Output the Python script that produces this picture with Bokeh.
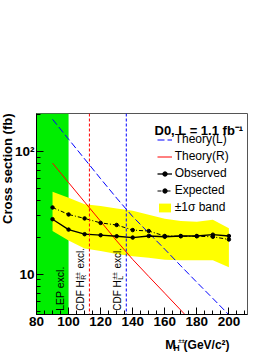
import math
from bokeh.plotting import figure
from bokeh.layouts import column
from bokeh.models import (Range1d, FixedTicker, BoxAnnotation, Span, Label,
                          Legend, LegendItem, Title)
from bokeh.embed import file_html
from bokeh.resources import INLINE

# ---- data ----
mass = [90, 100, 110, 120, 130, 140, 150, 160, 170, 180, 190, 200]
observed = [28.1, 23.1, 21.2, 20.8, 20.4, 19.9, 20.5, 20.2, 20.5, 20.5, 21.0, 20.5]
expected = [35.0, 30.7, 28.5, 26.2, 25.2, 22.9, 22.5, 20.5, 20.4, 20.4, 20.2, 19.2]
band_hi = [47.0, 42.0, 37.1, 36.0, 34.3, 32.9, 30.5, 28.3, 27.2, 26.8, 27.8, 23.7]
band_lo = [22.5, 18.8, 16.2, 15.5, 14.6, 14.0, 13.6, 13.1, 13.0, 13.0, 13.0, 11.4]

theory_L_mass = [90, 100, 110, 120, 130, 140, 150, 160, 170, 180, 190, 200]
theory_L = [183, 126, 87, 60, 41.7, 29.5, 21.7, 16.0, 11.7, 8.6, 6.35, 4.67]
theory_R_mass = [90, 100, 110, 120, 130, 140, 150, 160, 170, 180]
theory_R = [80.4, 55.8, 38.8, 27.0, 18.7, 13.2, 9.6, 7.0, 5.1, 3.7]

lep_limit = 100
cdf_limit_R = 113
cdf_limit_L = 136

x_ticks = [80, 100, 120, 140, 160, 180, 200]
x_minor = [85, 90, 95, 105, 110, 115, 125, 130, 135, 145, 150, 155, 165, 170,
           175, 185, 190, 195, 205, 210]
y_ticks = [10, 100]
y_minor = [5, 6, 7, 8, 9, 20, 30, 40, 50, 60, 70, 80, 90, 200]
y_tick_labels = {10: "10", 100: "10\u00b2"}

FONT = "Liberation Sans"
TOTAL_W, TOTAL_H = 271, 352
MAIN_H = 332       # main figure height; the rest holds the x-axis title

p = figure(width=TOTAL_W, height=MAIN_H, x_range=Range1d(80, 211.6),
           y_range=Range1d(4.70, 204), y_axis_type="log",
           output_backend="svg", toolbar_location=None,
           min_border_left=36, min_border_right=24,
           min_border_top=113, min_border_bottom=18)
p.grid.visible = False
p.outline_line_color = "#555555"
p.outline_line_width = 1

for ax in (p.xaxis[0], p.yaxis[0]):
    ax.major_tick_in = 7
    ax.major_tick_out = 0
    ax.minor_tick_in = 4
    ax.minor_tick_out = 0
    ax.axis_line_color = "black"
    ax.major_tick_line_color = "black"
    ax.minor_tick_line_color = "black"
    ax.major_label_text_font = FONT
    ax.major_label_text_font_style = "bold"
    ax.major_label_text_font_size = "13.5px"
    ax.major_label_text_color = "black"
    ax.axis_label = None

p.xaxis.ticker = FixedTicker(ticks=x_ticks, minor_ticks=x_minor)
p.xaxis.major_label_standoff = 2
p.yaxis.ticker = FixedTicker(ticks=y_ticks, minor_ticks=y_minor)
p.yaxis.major_label_overrides = y_tick_labels
p.yaxis.major_label_standoff = 2

# y-axis title, top aligned like the reference
p.add_layout(Title(text="Cross section (fb)", align="right", standoff=-6,
                   offset=0, text_font=FONT, text_font_size="13px",
                   text_font_style="bold", text_color="black"), "left")

# LEP excluded region
p.add_layout(BoxAnnotation(left=80, right=lep_limit, fill_color="#00ee00",
                           fill_alpha=1.0, line_alpha=0, level="underlay"))

# +-1 sigma band
band = p.varea(x=mass, y1=band_lo, y2=band_hi, fill_color="#ffff00")

# theory lines
rL = p.line(theory_L_mass, theory_L, line_color="#0000ff", line_width=1,
            line_dash="7 3")
rR = p.line(theory_R_mass, theory_R, line_color="#ff0000", line_width=1)

# expected / observed
exp_l = p.line(mass, expected, line_color="black", line_width=1,
               line_dash="4 2 1 2")
exp_m = p.scatter(mass, expected, size=3.5, color="black")
obs_l = p.line(mass, observed, line_color="black", line_width=1.3)
obs_m = p.scatter(mass, observed, size=3.5, color="black")

# CDF exclusion lines
p.add_layout(Span(location=cdf_limit_R, dimension="height", line_color="#ff0000",
                  line_dash="3 2", line_width=1))
p.add_layout(Span(location=cdf_limit_L, dimension="height", line_color="#0000ff",
                  line_dash="3 2", line_width=1))

# legend
legend = Legend(items=[
    LegendItem(label="Theory(L)", renderers=[rL]),
    LegendItem(label="Theory(R)", renderers=[rR]),
    LegendItem(label="Observed", renderers=[obs_l, obs_m]),
    LegendItem(label="Expected", renderers=[exp_l, exp_m]),
    LegendItem(label="\u00b11\u03c3 band", renderers=[band]),
], location=(120.7, 100))
legend.padding = 0
legend.margin = 0
legend.spacing = 3
legend.glyph_width = 15
legend.glyph_height = 11
legend.label_height = 11
legend.label_standoff = 3
legend.border_line_color = None
legend.background_fill_alpha = 0
legend.label_text_font = FONT
legend.label_text_font_size = "12px"
legend.label_text_color = "black"
p.add_layout(legend)


def lab(fig, text, x, y, size, bold=False, angle=0.0, align="left",
        baseline="alphabetic", xu="screen", yu="screen", xo=0):
    fig.add_layout(Label(x=x, y=y, x_units=xu, y_units=yu, text=text,
                         text_font=FONT, text_font_size=size,
                         text_font_style="bold" if bold else "normal",
                         text_color="black", angle=angle, text_align=align,
                         text_baseline=baseline, x_offset=xo))


up = math.pi / 2

# legend heading
lab(p, "D0, L = 1.1 fb\u207b\u00b9", 118, 183.7, "13px", bold=True)

# vertical exclusion labels
lab(p, "LEP excl.", 94.5, 3.7, "10.5px", angle=up, baseline="middle", xu="data")
for xc, sub in ((cdf_limit_R - 5.3, "R"), (cdf_limit_L - 5.3, "L")):
    lab(p, "CDF H", xc, 3.7, "10px", angle=up, baseline="middle", xu="data")
    lab(p, sub, xc, 34.7, "7px", angle=up, baseline="middle", xu="data", xo=3)
    lab(p, "\u00b1\u00b1", xc, 34.7, "7px", angle=up, baseline="middle", xu="data", xo=-3.5)
    lab(p, "excl.", xc, 46, "10px", angle=up, baseline="middle", xu="data")

# strip with the x-axis title (y measured downward from the strip top)
XT_H = TOTAL_H - MAIN_H
xt = figure(width=TOTAL_W, height=XT_H, x_range=Range1d(0, TOTAL_W),
            y_range=Range1d(XT_H, 0), output_backend="svg",
            toolbar_location=None, min_border=0,
            x_axis_location=None, y_axis_location=None)
xt.grid.visible = False
xt.outline_line_color = None
lab(xt, "M", 165.5, 12.5, "12.5px", bold=True, xu="data", yu="data")
lab(xt, "H", 176, 15.5, "8.5px", bold=True, xu="data", yu="data")
lab(xt, "\u00b1\u00b1", 182, 8.5, "6px", bold=True, xu="data", yu="data")
lab(xt, "(GeV/c\u00b2)", 248, 12.5, "12px", bold=True, align="right",
    xu="data", yu="data")

layout = column(p, xt, spacing=0)
open("out.html", "w").write(file_html(layout, INLINE))
